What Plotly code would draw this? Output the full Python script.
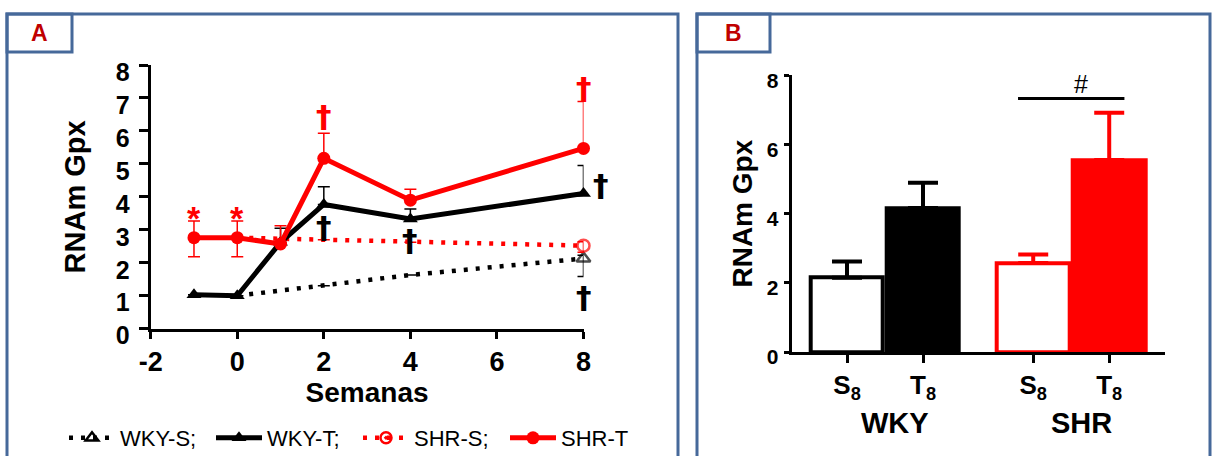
import plotly.graph_objects as go

W, H = 1212, 456
def fx(p): return p / W
def fy(p): return 1 - p / H

FONT = "Liberation Sans, Arial, sans-serif"
SYMFONT = "DejaVu Sans, Liberation Sans, sans-serif"
RED = "#FF0000"
BLACK = "#000000"
FRAME = "#46699A"

# ---------------- Panel A data ----------------
weeks_T = [-1, 0, 1, 2, 4, 8]
wky_t = [1.03, 1.00, 2.62, 3.77, 3.33, 4.10]
wky_t_up = [0, 0, 0.43, 0.54, 0.30, 0.85]
wky_t_dn = [0, 0, 0, 0, 0, 0]
shr_t = [2.76, 2.76, 2.57, 5.17, 3.90, 5.47]
shr_t_up = [0.51, 0.51, 0.55, 0.76, 0.33, 1.42]
shr_t_dn = [0.58, 0.58, 0, 0, 0, 0]

weeks_S = [0, 2, 4, 8]
wky_s = [1.00, 1.30, 1.63, 2.13]
wky_s_up = [0, 0, 0, 0.10]
wky_s_dn = [0, 0, 0, 0.55]
shr_s = [2.76, 2.70, 2.62, 2.52]
shr_s_up = [0, 0, 0, 0.12]
shr_s_dn = [0, 0, 0, 0.20]

x_ticks_A = [-2, 0, 2, 4, 6, 8]
y_ticks_A = [0, 1, 2, 3, 4, 5, 6, 7, 8]

# significance marks panel A: (x, y) / (x, y, color, pixel shift right)
stars_A = [(-1, 3.6), (0, 3.6)]
daggers_A = [
    (2, 6.45, RED, 0), (8, 7.3, RED, 0),
    (2, 3.1, BLACK, 0), (4, 2.7, BLACK, 0),
    (8, 4.35, BLACK, 17), (8, 0.95, BLACK, 0),
]

# ---------------- Panel B data ----------------
groups_B = ["WKY", "SHR"]
cond_labels_B = ["S<sub>8</sub>", "T<sub>8</sub>"]
wky_bars = [2.15, 4.16]
wky_bars_err = [0.47, 0.73]
shr_bars = [2.57, 5.55]
shr_bars_err = [0.25, 1.37]
sig_B_y = 7.33
y_ticks_B = [0, 2, 4, 6, 8]

# bar positions (layout)
group_gap = 1.45
pos_wky = [0, 1]
pos_shr = [group_gap + 1, group_gap + 2]
ctr_wky = sum(pos_wky) / 2
ctr_shr = sum(pos_shr) / 2

fig = go.Figure()

dash_dot = "4px,8px"

# S series (lines, marker only at last point)
fig.add_trace(go.Scatter(
    x=weeks_S, y=wky_s, mode="lines+markers", showlegend=False,
    line=dict(color=BLACK, width=4.5, dash=dash_dot),
    marker=dict(symbol="triangle-up-open", size=[0, 0, 0, 12], color=BLACK, line=dict(width=2.5, color=BLACK)),
    error_y=dict(type="data", symmetric=False, array=wky_s_up, arrayminus=wky_s_dn,
                 color=BLACK, thickness=1.5, width=6),
    cliponaxis=False, xaxis="x", yaxis="y"))
fig.add_trace(go.Scatter(
    x=weeks_S, y=shr_s, mode="lines+markers", showlegend=False,
    line=dict(color=RED, width=4.5, dash=dash_dot),
    marker=dict(symbol="circle-open", size=[0, 0, 0, 12], color=RED, line=dict(width=2.5, color=RED)),
    error_y=dict(type="data", symmetric=False, array=shr_s_up, arrayminus=shr_s_dn,
                 color=RED, thickness=1.5, width=6),
    cliponaxis=False, xaxis="x", yaxis="y"))

# T series
fig.add_trace(go.Scatter(
    x=weeks_T, y=wky_t, mode="lines+markers", name="WKY-T;", legendrank=2,
    line=dict(color=BLACK, width=5),
    marker=dict(symbol="triangle-up", size=13, color=BLACK),
    error_y=dict(type="data", symmetric=False, array=wky_t_up, arrayminus=wky_t_dn,
                 color=BLACK, thickness=1.5, width=6),
    cliponaxis=False, xaxis="x", yaxis="y"))
fig.add_trace(go.Scatter(
    x=weeks_T, y=shr_t, mode="lines+markers", name="SHR-T", legendrank=4,
    line=dict(color=RED, width=5),
    marker=dict(symbol="circle", size=13, color=RED),
    error_y=dict(type="data", symmetric=False, array=shr_t_up, arrayminus=shr_t_dn,
                 color=RED, thickness=1.5, width=6),
    cliponaxis=False, xaxis="x", yaxis="y"))

# legend entries for S series
fig.add_trace(go.Scatter(
    x=[None], y=[None], mode="lines+markers", name="WKY-S;", legendrank=1,
    line=dict(color=BLACK, width=4.5, dash=dash_dot),
    marker=dict(symbol="triangle-up-open", size=11, color=BLACK, line=dict(width=2.5, color=BLACK)),
    xaxis="x", yaxis="y"))
fig.add_trace(go.Scatter(
    x=[None], y=[None], mode="lines+markers", name="SHR-S;", legendrank=3,
    line=dict(color=RED, width=4.5, dash=dash_dot),
    marker=dict(symbol="circle-open-dot", size=11, color=RED, line=dict(width=2.5, color=RED)),
    xaxis="x", yaxis="y"))

# Panel B bars
fig.add_trace(go.Bar(
    x=pos_wky, y=wky_bars, width=0.95, showlegend=False,
    marker=dict(color=["white", BLACK], line=dict(color=BLACK, width=4)),
    error_y=dict(type="data", symmetric=False, array=wky_bars_err, arrayminus=[0, 0],
                 color=BLACK, thickness=4, width=15),
    xaxis="x2", yaxis="y2"))
fig.add_trace(go.Bar(
    x=pos_shr, y=shr_bars, width=0.95, showlegend=False,
    marker=dict(color=["white", RED], line=dict(color=RED, width=4)),
    error_y=dict(type="data", symmetric=False, array=shr_bars_err, arrayminus=[0, 0],
                 color=RED, thickness=4, width=15),
    xaxis="x2", yaxis="y2"))

annotations = []
for (x, y) in stars_A:
    annotations.append(dict(x=x, y=y, xref="x", yref="y", text="*", showarrow=False,
                            yanchor="middle", yshift=-8,
                            font=dict(family=FONT, size=34, color=RED, weight="bold")))
for (x, y, c, dx) in daggers_A:
    annotations.append(dict(x=x, y=y, xref="x", yref="y", text="†", showarrow=False,
                            yanchor="middle", xshift=dx,
                            font=dict(family=SYMFONT, size=31, color=c, weight="bold")))

# Panel B group labels and significance
for g, c in zip(groups_B, [ctr_wky, ctr_shr]):
    annotations.append(dict(x=c, y=fy(423), xref="x2", yref="paper", text=g, showarrow=False,
                            xshift=10, yanchor="middle",
                            font=dict(family=FONT, size=29, color=BLACK, weight="bold")))
annotations.append(dict(x=ctr_shr, y=sig_B_y, xref="x2", yref="y2", text="#", showarrow=False,
                        xshift=10, yanchor="bottom", yshift=-2,
                        font=dict(family=FONT, size=25, color=BLACK)))

# panel labels
annotations.append(dict(x=fx(40), y=fy(33), xref="paper", yref="paper", text="A", showarrow=False,
                        xanchor="center", yanchor="middle",
                        font=dict(family=FONT, size=23, color="#C00000", weight="bold")))
annotations.append(dict(x=fx(733), y=fy(33), xref="paper", yref="paper", text="B", showarrow=False,
                        xanchor="center", yanchor="middle",
                        font=dict(family=FONT, size=23, color="#C00000", weight="bold")))

shapes = [
    dict(type="rect", xref="paper", yref="paper", x0=fx(7), x1=fx(678), y0=fy(14), y1=-0.2,
         line=dict(color=FRAME, width=3)),
    dict(type="rect", xref="paper", yref="paper", x0=fx(7), x1=fx(72), y0=fy(14), y1=fy(52),
         line=dict(color=FRAME, width=3)),
    dict(type="rect", xref="paper", yref="paper", x0=fx(697), x1=fx(1210), y0=fy(14), y1=-0.2,
         line=dict(color=FRAME, width=3)),
    dict(type="rect", xref="paper", yref="paper", x0=fx(697), x1=fx(770), y0=fy(14), y1=fy(52),
         line=dict(color=FRAME, width=3)),
    dict(type="line", xref="x2", yref="y2", x0=ctr_shr - 0.7, x1=ctr_shr + 0.7, y0=sig_B_y, y1=sig_B_y,
         line=dict(color=BLACK, width=3)),
]

axis_common = dict(showgrid=False, zeroline=False, showline=True, linecolor=BLACK, linewidth=3,
                   ticks="outside", tickcolor=BLACK, tickwidth=3, automargin=False)

fig.update_layout(
    width=W, height=H, margin=dict(l=0, r=0, t=0, b=0, autoexpand=False),
    paper_bgcolor="white", plot_bgcolor="white",
    font=dict(family=FONT, color=BLACK),
    xaxis=dict(domain=[fx(150.7), fx(583.5)], range=[-2, 8], anchor="y", tickvals=x_ticks_A,
               ticktext=[str(v) for v in x_ticks_A], ticklabelstandoff=0,
               ticklen=7, tickfont=dict(family=FONT, size=27, weight="bold"),
               title=dict(text="Semanas", font=dict(family=FONT, size=28, weight="bold"), standoff=0),
               **axis_common),
    yaxis=dict(domain=[fy(328.7), fy(65)], range=[0, 8], anchor="x", tickvals=y_ticks_A,
               ticklen=9, ticklabelshift=7, ticklabelstandoff=4,
               tickfont=dict(family=FONT, size=25, weight="bold"),
               title=dict(text="RNAm Gpx", font=dict(family=FONT, size=29, weight="bold"), standoff=22),
               **axis_common),
    xaxis2=dict(domain=[fx(791.7), fx(1165)], range=[-0.728, 4.184], anchor="y2",
                tickvals=pos_wky + pos_shr, ticktext=cond_labels_B * 2, ticklabelstandoff=0,
                ticklen=8, tickfont=dict(family=FONT, size=26, weight="bold"),
                **axis_common),
    yaxis2=dict(domain=[fy(352), fy(75.3)], range=[0, 8], anchor="x2", tickvals=y_ticks_B,
                ticklen=5, ticklabelshift=5, ticklabelstandoff=1,
                tickfont=dict(family=FONT, size=21, weight="bold"),
                title=dict(text="RNAm Gpx", font=dict(family=FONT, size=28, weight="bold"), standoff=7),
                **axis_common),
    legend=dict(orientation="h", x=fx(64), xanchor="left", y=fy(438), yanchor="middle",
                font=dict(family=FONT, size=22, color=BLACK), bgcolor="rgba(0,0,0,0)",
                itemwidth=46, entrywidth=86, entrywidthmode="pixels", traceorder="normal"),
    annotations=annotations, shapes=shapes, bargap=0,
)

fig.write_html("out.html")
